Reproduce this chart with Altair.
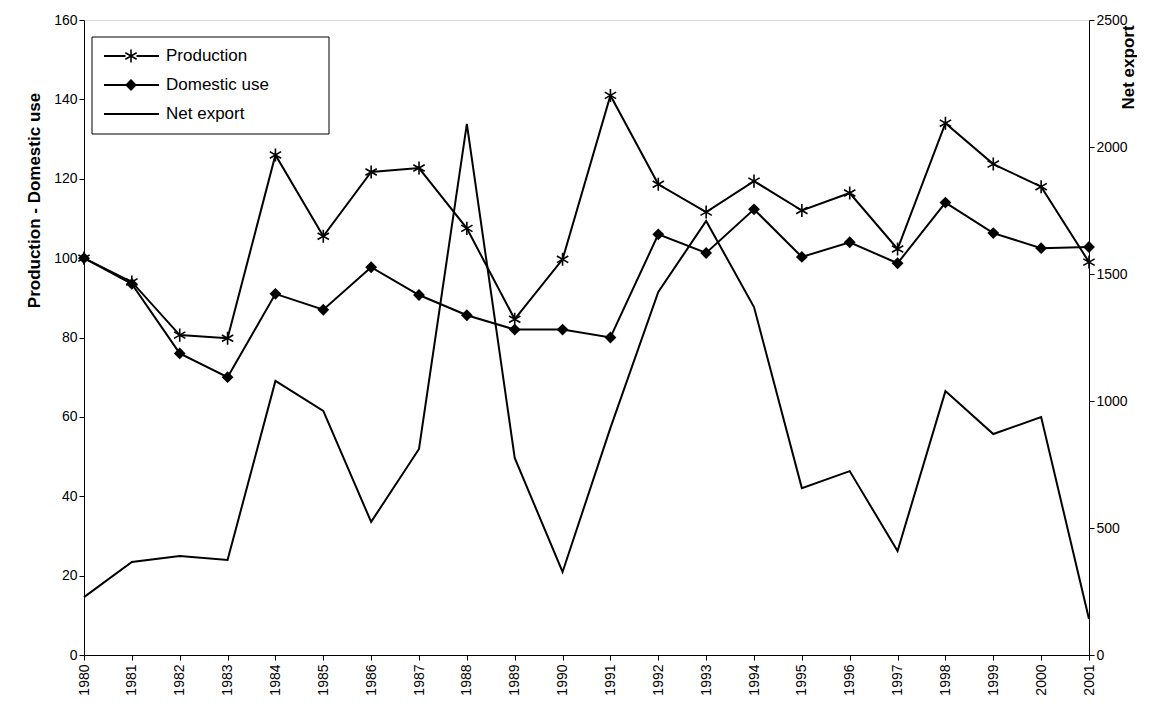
import altair as alt
import pandas as pd

years = list(range(1980, 2002))
production = [100, 94, 80.6, 79.8, 126, 105.5, 121.7, 122.7, 107.5, 84.6, 99.7,
              141, 118.6, 111.6, 119.4, 112, 116.4, 102.3, 134, 123.7, 118, 99]
domestic_use = [100, 93.5, 76, 70, 91, 87, 97.7, 90.7, 85.6, 82, 82,
                80, 106, 101.3, 112.3, 100.3, 104, 98.7, 114, 106.3, 102.5, 102.8]
net_export = [228, 366, 390, 374, 1079, 961, 524, 811, 2091, 776, 327,
              894, 1429, 1709, 1370, 657, 724, 409, 1039, 870, 937, 142]

df = pd.DataFrame({"Year": years, "Production": production,
                   "Domestic use": domestic_use, "Net export": net_export})

FONT = "Liberation Sans"
STAR = "M0,-1L0,1M-0.87,-0.5L0.87,0.5M-0.87,0.5L0.87,-0.5"

x = alt.X("Year:Q", scale=alt.Scale(domain=[1980, 2001], nice=False),
          axis=alt.Axis(values=years, format="d", labelAngle=-90, title=None,
                        grid=False, labelFontSize=14, labelColor="black",
                        domainColor="black", tickColor="black", labelPadding=4))
yleft = alt.Axis(title="Production - Domestic use", grid=False, values=list(range(0, 161, 20)),
                 titleFontSize=17, titleFontWeight="bold", labelFontSize=14,
                 titleY=180, titleAlign="center", titlePadding=10,
                 labelColor="black", domainColor="black", tickColor="black", titleColor="black")
yscale = alt.Scale(domain=[0, 160], nice=False)

base = alt.Chart(df)
prod_line = base.mark_line(color="black", strokeWidth=2).encode(x=x, y=alt.Y("Production:Q", scale=yscale, axis=yleft))
prod_pts = base.mark_point(shape=STAR, size=170, color="black", filled=False, strokeWidth=1.6, opacity=1).encode(
    x=x, y=alt.Y("Production:Q", scale=yscale, axis=yleft))
dom_line = base.mark_line(color="black", strokeWidth=2).encode(x=x, y=alt.Y("Domestic use:Q", scale=yscale, axis=yleft))
dom_pts = base.mark_point(shape="diamond", size=140, color="black", filled=True, opacity=1).encode(
    x=x, y=alt.Y("Domestic use:Q", scale=yscale, axis=yleft))
left = alt.layer(prod_line, prod_pts, dom_line, dom_pts)

right = base.mark_line(color="black", strokeWidth=2).encode(
    x=x, y=alt.Y("Net export:Q", scale=alt.Scale(domain=[0, 2500], nice=False),
                 axis=alt.Axis(title="Net export", orient="right", grid=False, format="d",
                               values=list(range(0, 2501, 500)), titleFontSize=17,
                               titleFontWeight="bold", labelFontSize=14, labelColor="black",
                               titleAngle=270, titleY=47, titleAlign="center", titlePadding=10,
                               domainColor="black", tickColor="black", titleColor="black")))

# manual legend box
one = pd.DataFrame({"a": [0]})
lg = alt.Chart(one)
box = lg.mark_rect(fill="white", stroke="black", strokeWidth=1).encode(
    x=alt.value(8), x2=alt.value(245), y=alt.value(17), y2=alt.value(114))
items = []
for i, (lab, shape, filled) in enumerate([("Production", STAR, False),
                                          ("Domestic use", "diamond", True),
                                          ("Net export", None, None)]):
    yy = 36 + i * 29
    items.append(lg.mark_rule(color="black", strokeWidth=2).encode(
        x=alt.value(20), x2=alt.value(75), y=alt.value(yy)))
    if shape:
        if filled:
            items.append(lg.mark_point(shape=shape, size=140, color="black", filled=True,
                                       opacity=1).encode(x=alt.value(47), y=alt.value(yy)))
        else:
            items.append(lg.mark_square(size=120, color="white", opacity=1).encode(
                x=alt.value(47), y=alt.value(yy)))
            items.append(lg.mark_point(shape=shape, size=170, color="black", filled=False,
                                       strokeWidth=1.6, opacity=1).encode(x=alt.value(47), y=alt.value(yy)))
    items.append(lg.mark_text(text=lab, align="left", baseline="middle", fontSize=17,
                              font=FONT, color="black").encode(x=alt.value(82), y=alt.value(yy)))
legend = alt.layer(box, *items)

chart = (
    alt.layer(left, right, legend)
    .resolve_scale(y="independent")
    .properties(width=1005, height=635, padding={"left": 17, "top": 5, "right": 0, "bottom": 0})
    .configure_view(stroke="black", strokeWidth=1)
    .configure_axis(labelFont=FONT, titleFont=FONT)
    .configure(background="white")
)

chart.save("out.html", embed_options={"renderer": "svg", "actions": False})
